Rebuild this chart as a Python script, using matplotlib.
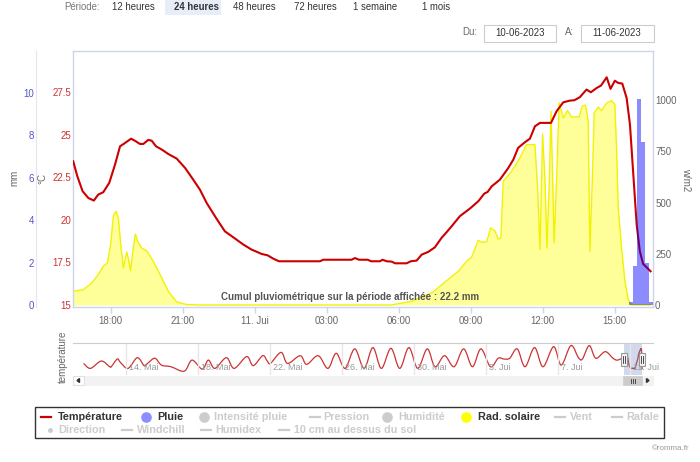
import matplotlib
matplotlib.use('Agg')
import matplotlib.pyplot as plt
from matplotlib.patches import Rectangle, Polygon, PathPatch
from matplotlib.path import Path
from matplotlib.lines import Line2D

plt.rcParams['font.family'] = ['Liberation Sans', 'DejaVu Sans']

# ---- data (hours since 10-06-2023 00:00) ----
temp_h = [16.44, 16.61, 16.83, 17.07, 17.30, 17.48, 17.69, 17.94, 18.18, 18.39, 18.60, 18.85,
          19.01, 19.22, 19.36, 19.57, 19.71, 19.89, 20.13, 20.40, 20.75, 21.10, 21.44, 21.72,
          22.00, 22.39, 22.76, 23.11, 23.53, 23.88, 24.05, 24.29, 24.54, 24.78, 25.01, 26.72,
          26.86, 28.04, 28.18, 28.35, 28.71, 28.85, 29.22, 29.33, 29.50, 29.71, 29.85, 30.33,
          30.51, 30.75, 30.96, 31.23, 31.51, 31.79, 31.98, 32.21, 32.55, 32.97, 33.32, 33.57,
          33.71, 33.88, 34.22, 34.57, 34.78, 34.98, 35.26, 35.47, 35.68, 35.89, 36.35, 36.58,
          36.86, 37.14, 37.32, 37.55, 37.83, 38.01, 38.25, 38.43, 38.67, 38.83, 39.01, 39.15,
          39.32, 39.50, 39.64, 39.78, 39.92, 40.05, 40.19, 40.33, 40.50]
temp_c = [23.45, 22.57, 21.69, 21.29, 21.14, 21.49, 21.63, 22.18, 23.25, 24.33, 24.53, 24.78,
          24.66, 24.47, 24.47, 24.71, 24.66, 24.33, 24.14, 23.88, 23.61, 23.06, 22.37, 21.78,
          21.00, 20.12, 19.33, 18.98, 18.55, 18.25, 18.15, 18.00, 17.92, 17.72, 17.57, 17.57,
          17.66, 17.66, 17.76, 17.66, 17.66, 17.57, 17.57, 17.66, 17.57, 17.55, 17.45, 17.45,
          17.57, 17.61, 17.96, 18.12, 18.39, 18.95, 19.25, 19.63, 20.22, 20.67, 21.10, 21.55,
          21.65, 21.98, 22.37, 23.06, 23.55, 24.24, 24.57, 24.78, 25.51, 25.71, 25.71, 26.39,
          26.92, 27.02, 27.04, 27.22, 27.67, 27.51, 27.76, 27.90, 28.39, 27.71, 28.19, 28.06,
          28.02, 27.18, 25.61, 22.66, 19.72, 18.16, 17.41, 17.22, 16.98]

sol_h = [16.44, 16.86, 17.21, 17.48, 17.69, 17.86, 18.00, 18.11, 18.22, 18.32, 18.42, 18.53,
         18.67, 18.73, 18.83, 18.94, 19.03, 19.12, 19.29, 19.50, 19.78, 20.05, 20.40, 20.75,
         21.17, 21.70, 29.70, 30.54, 31.38, 32.14, 32.48, 32.83, 33.04, 33.32, 33.48, 33.67,
         33.83, 34.01, 34.15, 34.26, 34.36, 34.71, 35.05, 35.33, 35.68, 35.79, 35.89, 36.00,
         36.10, 36.18, 36.28, 36.35, 36.42, 36.48, 36.58, 36.69, 36.86, 37.04, 37.21, 37.53,
         37.65, 37.79, 37.90, 37.97, 38.07, 38.15, 38.32, 38.46, 38.67, 38.87, 39.01, 39.08,
         39.15, 39.29, 39.43, 39.57, 39.71, 40.50]
sol_w = [67, 75, 107, 148, 189, 205, 295, 433, 458, 425, 295, 181,
         259, 230, 168, 278, 347, 311, 278, 265, 213, 151, 67, 15,
         2, 0, 0, 18, 59, 132, 164, 213, 233, 316, 306, 308,
         376, 363, 322, 327, 604, 653, 718, 783, 783, 572, 270, 835,
         604, 278, 604, 946, 604, 303, 604, 987, 914, 949, 917, 920,
         971, 976, 897, 262, 604, 938, 966, 949, 987, 998, 979, 767,
         474, 278, 116, 26, 0, 0]

rain_h = [39.69, 39.86, 40.03, 40.19, 40.36, 40.53]
rain_mm = [0.15, 1.85, 9.7, 7.7, 2.0, 0.15]

# navigator: days relative to 11-06-2023 00:00
nav_days = [-30.35, -29.97, -29.37, -28.90, -28.80, -28.48, -28.31, -27.88, -27.37, -26.99,
            -26.80, -26.39, -26.03, -25.50, -24.76, -24.33, -23.76, -23.42, -23.06, -22.42,
            -21.99, -21.29, -20.93, -20.40, -20.15, -19.97, -19.38, -19.02, -18.32, -17.96,
            -17.32, -16.78, -16.32, -15.83, -15.29, -14.77, -14.28, -13.81, -13.28, -12.79,
            -12.28, -11.79, -11.26, -10.83, -10.30, -9.77, -9.24, -8.75, -8.28, -7.75,
            -7.32, -7.00, -6.68, -6.26, -5.83, -5.30, -4.83, -4.24, -3.82, -3.28,
            -2.86, -2.64, -2.26, -1.90, -1.37, -0.94, -0.70]
nav_temp = [20.2, 17.5, 21.5, 18.4, 18.6, 22.6, 20.8, 17.5, 23.3, 19.0,
            20.2, 23.0, 19.3, 18.4, 16.0, 22.0, 17.1, 22.0, 17.5, 23.3,
            17.5, 23.9, 19.0, 24.4, 21.5, 20.2, 26.2, 20.2, 24.4, 19.7,
            24.4, 17.5, 25.7, 17.5, 28.1, 17.5, 28.8, 17.5, 28.4, 17.5,
            28.8, 17.5, 28.1, 18.4, 24.4, 18.4, 28.1, 18.4, 28.1, 18.4,
            23.0, 22.6, 23.0, 28.1, 18.4, 28.8, 18.4, 29.3, 19.3, 29.9,
            23.3, 22.6, 29.9, 23.0, 26.6, 23.0, 22.0]
nav_ticks = [-28, -24, -20, -16, -12, -8, -4, 0]
nav_labels = ['14. Mai', '18. Mai', '22. Mai', '26. Mai', '30. Mai', '3. Jui', '7. Jui', '11. Jui']

x_ticks = [18, 21, 24, 27, 30, 33, 36, 39]
x_labels = ['18:00', '21:00', '11. Jui', '03:00', '06:00', '09:00', '12:00', '15:00']
periods = ['12 heures', '24 heures', '48 heures', '72 heures', '1 semaine', '1 mois']

W, H = 700, 462
fig = plt.figure(figsize=(7, 4.62), dpi=100)


def fx(x):
    return x / W


def fy(y):
    return 1 - y / H


def box(x0, y0, x1, y1):
    return [fx(x0), fy(y1), (x1 - x0) / W, (y1 - y0) / H]


def frect(x0, y0, x1, y1, **kw):
    r = Rectangle((fx(x0), fy(y1)), (x1 - x0) / W, (y1 - y0) / H,
                  transform=fig.transFigure, **kw)
    fig.add_artist(r)
    return r


def ftext(x, y, s, **kw):
    kw.setdefault('va', 'center')
    return fig.text(fx(x), fy(y), s, **kw)


def spline_path(xs, ys):
    # highcharts-like spline: bezier curve passing through every point
    pts = list(zip(xs, ys))
    verts, codes = [pts[0]], [Path.MOVETO]
    n = len(pts)
    for i in range(n - 1):
        p0 = pts[max(i - 1, 0)]
        p1, p2 = pts[i], pts[i + 1]
        p3 = pts[min(i + 2, n - 1)]
        c1 = (p1[0] + (p2[0] - p0[0]) / 6, p1[1] + (p2[1] - p0[1]) / 6)
        c2 = (p2[0] - (p3[0] - p1[0]) / 6, p2[1] - (p3[1] - p1[1]) / 6)
        verts += [c1, c2, p2]
        codes += [Path.CURVE4] * 3
    return Path(verts, codes)


border = '#ccd6eb'

# ---- main chart ----
ax_w = fig.add_axes(box(73, 51.3, 653, 307))
ax_t = ax_w.twinx()
ax_mm = ax_w.twinx()
ax_w.set_zorder(1)
ax_t.set_zorder(2)
ax_mm.set_zorder(3)
ax_t.patch.set_visible(False)
ax_mm.patch.set_visible(False)

ax_w.fill_between(sol_h, 0, sol_w, color='#ffff99', lw=0)
ax_w.plot(sol_h, sol_w, color='#f2f200', lw=1)
ax_t.plot(temp_h, temp_c, color='#cc0000', lw=1.5)
ax_mm.bar(rain_h, rain_mm, width=1 / 6, color='#0000ff', alpha=0.45, lw=0)

ax_w.set_xlim(16.43, 40.6)
ax_w.set_ylim(-9.8, 1239)
ax_t.set_ylim(14.88, 29.92)
ax_mm.set_ylim(-0.094, 11.95)

for s in ax_w.spines.values():
    s.set_color(border)
    s.set_linewidth(1)
for a in (ax_t, ax_mm):
    for s in a.spines.values():
        s.set_visible(False)

ax_w.set_xticks(x_ticks)
ax_w.set_xticklabels(x_labels)
ax_w.tick_params(axis='x', colors=border, length=4.5, width=1, pad=2,
                 labelcolor='#666666', labelsize=7)

ax_w.yaxis.tick_right()
ax_w.set_yticks([0, 250, 500, 750, 1000])
ax_w.tick_params(axis='y', length=0, pad=1.5, labelcolor='#666666', labelsize=7)

ax_t.yaxis.tick_left()
ax_t.set_yticks([15, 17.5, 20, 22.5, 25, 27.5])
ax_t.set_yticklabels(['15', '17.5', '20', '22.5', '25', '27.5'])
ax_t.tick_params(axis='y', length=0, pad=1.5, labelcolor='#cc3333', labelsize=7)

ax_mm.yaxis.tick_left()
ax_mm.spines['left'].set_visible(True)
ax_mm.spines['left'].set_position(('outward', 37 * 0.72))
ax_mm.spines['left'].set_color('#e3e6ee')
ax_mm.set_yticks([0, 2, 4, 6, 8, 10])
ax_mm.tick_params(axis='y', length=0, pad=1.5, labelcolor='#5555cc', labelsize=7)

ftext(14, 178, 'mm', rotation=90, ha='center', color='#666666', fontsize=7)
ftext(42, 178, '°C', rotation=90, ha='center', color='#666666', fontsize=7)
ftext(686, 180, 'w/m2', rotation=270, ha='center', color='#666666', fontsize=7)
ftext(350, 297, 'Cumul pluviométrique sur la période affichée : 22.2 mm',
      ha='center', color='#555555', fontsize=7, fontweight='bold', zorder=10)

# ---- navigator ----
ax_nav = fig.add_axes(box(73, 343, 653, 375))
nav_x = nav_days + [(h - 24) / 24 for h in temp_h]
nav_y = nav_temp + temp_c
ax_nav.add_patch(PathPatch(spline_path(nav_x, nav_y), facecolor='none',
                           edgecolor='#cc3333', lw=0.9))
ax_nav.set_xlim(-30.94, 1.28)
ax_nav.set_ylim(13.9, 31.3)
ax_nav.set_xticks(nav_ticks)
ax_nav.set_xticklabels([])
ax_nav.set_yticks([])
ax_nav.tick_params(axis='x', length=0)
ax_nav.grid(axis='x', color='#e6e6e6', lw=1)
for k, s in ax_nav.spines.items():
    s.set_visible(k == 'top')
ax_nav.spines['top'].set_color('#cccccc')
for d, lab in zip(nav_ticks, nav_labels):
    ax_nav.text(d + 0.17, 0.22, lab, transform=ax_nav.get_xaxis_transform(),
                fontsize=6.5, color='#999999', va='center', ha='left', clip_on=False)
ax_nav.axvspan((temp_h[0] - 24) / 24, (temp_h[-1] - 24) / 24,
               color=(0.4, 0.52, 0.76), alpha=0.3, lw=0)

for cx in (623.5, 642):
    frect(cx - 3, 353, cx + 3, 366, facecolor='#f2f2f2', edgecolor='#999999', lw=0.8, zorder=5)
    for dx in (-1, 1):
        fig.add_artist(Line2D([fx(cx + dx), fx(cx + dx)], [fy(356), fy(363)],
                              transform=fig.transFigure, color='#333333', lw=0.6, zorder=6))

ftext(63, 357, 'température', rotation=90, ha='center', color='#666666', fontsize=7)

# scrollbar
frect(73, 376, 653, 385, facecolor='#f2f2f2', edgecolor='#f2f2f2', lw=0.5)
frect(73, 376, 84, 385, facecolor='#ffffff', edgecolor='#e0e0e0', lw=0.8)
frect(642, 376, 653, 385, facecolor='#f2f2f2', edgecolor='#f2f2f2', lw=0.8)
frect(623, 376, 642, 385, facecolor='#cccccc', edgecolor='#cccccc', lw=0.5)
fig.add_artist(Polygon([[fx(77), fy(380.5)], [fx(79.5), fy(378.5)], [fx(79.5), fy(382.5)]],
                       closed=True, transform=fig.transFigure, color='#333333'))
fig.add_artist(Polygon([[fx(649), fy(380.5)], [fx(646.5), fy(378.5)], [fx(646.5), fy(382.5)]],
                       closed=True, transform=fig.transFigure, color='#333333'))
for dx in (-2, 0, 2):
    fig.add_artist(Line2D([fx(632.5 + dx), fx(632.5 + dx)], [fy(378.5), fy(382.5)],
                          transform=fig.transFigure, color='#333333', lw=0.6))

# ---- period selector ----
ftext(82, 7, 'Période:', ha='center', color='#777777', fontsize=6.9)
frect(165, 0, 221, 15, facecolor='#e8eef8', edgecolor='none')
period_x = [133, 196, 254, 315, 375, 436]
for px, p in zip(period_x, periods):
    ftext(px, 7, p, ha='center', color='#333333', fontsize=6.9,
          fontweight='bold' if p == '24 heures' else 'normal')
ftext(470, 32, 'Du:', ha='center', color='#666666', fontsize=6.9)
frect(483.5, 25, 555.8, 41.7, facecolor='white', edgecolor='#cccccc', lw=0.8)
ftext(519.6, 33, '10-06-2023', ha='center', color='#333333', fontsize=6.9)
ftext(569, 32, 'A:', ha='center', color='#666666', fontsize=6.9)
frect(580.8, 25, 654, 41.7, facecolor='white', edgecolor='#cccccc', lw=0.8)
ftext(617, 33, '11-06-2023', ha='center', color='#333333', fontsize=6.9)

# ---- legend ----
frect(35, 407, 664, 438, facecolor='white', edgecolor='#333333', lw=1, zorder=1)
on, off = '#333333', '#cccccc'
legend_items = [
    # (kind, symbol x, text x, y, label, symbol color, text color)
    ('line', 45.5, 58, 417, 'Température', '#cc0000', on),
    ('dot', 146.3, 157, 417, 'Pluie', '#8c8cff', on),
    ('dot', 203.5, 214.5, 417, 'Intensité pluie', off, off),
    ('line', 315, 323, 417, 'Pression', off, off),
    ('dot', 387, 398.6, 417, 'Humidité', off, off),
    ('dot', 466, 477.8, 417, 'Rad. solaire', '#ffff00', on),
    ('line', 559.5, 569.6, 417, 'Vent', off, off),
    ('line', 616.7, 626.7, 417, 'Rafale', off, off),
    ('small', 49.6, 58.6, 430, 'Direction', off, off),
    ('line', 127, 137, 430, 'Windchill', off, off),
    ('line', 205.5, 215.7, 430, 'Humidex', off, off),
    ('line', 283.5, 294.5, 430, '10 cm au dessus du sol', off, off),
]
for kind, sx, tx, y, lab, sc, tc in legend_items:
    if kind == 'line':
        fig.add_artist(Line2D([fx(sx - 5), fx(sx + 5)], [fy(y), fy(y)],
                              transform=fig.transFigure, color=sc, lw=1.6, zorder=2))
    else:
        r = 4 if kind == 'dot' else 1.5
        fig.add_artist(Line2D([fx(sx)], [fy(y)], transform=fig.transFigure, marker='o',
                              markersize=2 * r * 0.72 * 1.15, color=sc, lw=0, zorder=2))
    ftext(tx, y, lab, ha='left', color=tc, fontsize=7.8, fontweight='bold', zorder=2)

ftext(652, 448, '©romma.fr', ha='left', color='#999999', fontsize=5.8)

fig.savefig('out.png', dpi=100)
